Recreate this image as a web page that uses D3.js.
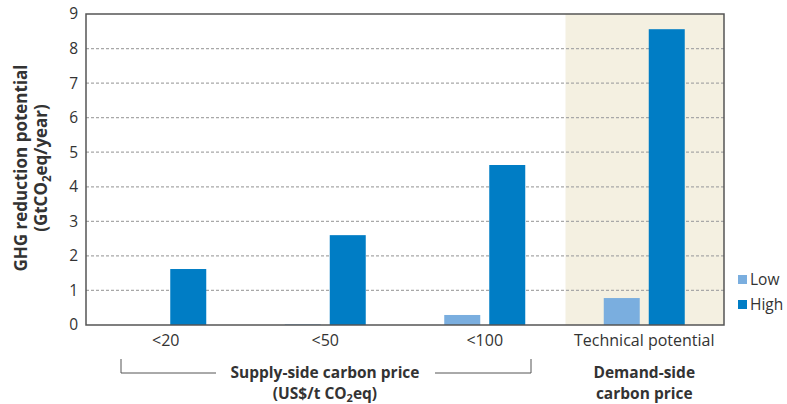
<!DOCTYPE html>
<html><head><meta charset="utf-8">
<script src="https://cdn.jsdelivr.net/npm/d3@7"></script>
<style>body{margin:0;background:#fff}svg{display:block}text{font-family:"Open Sans","Noto Sans",sans-serif;fill:#333}</style>
</head><body><svg id="c" width="787" height="404"></svg>
<script>
const categories = ["<20", "<50", "<100", "Technical potential"];
const series = ["Low", "High"];
const lowValues = [0, 0.02, 0.29, 0.78];
const highValues = [1.62, 2.6, 4.63, 8.56];
const yTicks = [0,1,2,3,4,5,6,7,8,9];
const colors = {Low: "#7aaedf", High: "#007dc5"};

const svg = d3.select("#c");
const m = {l: 86, r: 724, t: 14, b: 325};
const x = d3.scaleBand().domain(categories).range([m.l, m.r]);
const xs = d3.scaleBand().domain(series).range([-40.5, 40.5]).paddingInner(0.2);
const y = d3.scaleLinear().domain([0, 9]).range([m.b, m.t]);

svg.append("rect").attr("x", x("Technical potential")+1).attr("y", m.t)
  .attr("width", m.r - x("Technical potential")-1).attr("height", m.b - m.t).attr("fill", "#f4f0e1");

svg.append("g").selectAll("line").data(yTicks.filter(d => d > 0 && d < 9)).join("line")
  .attr("x1", m.l).attr("x2", m.r).attr("y1", d => y(d)).attr("y2", d => y(d))
  .attr("stroke", "#a8a8a8").attr("stroke-width", 1.2).attr("stroke-dasharray", "3,2");

const data = [];
categories.forEach((c, i) => {
  data.push({c, s: "Low", v: lowValues[i]});
  data.push({c, s: "High", v: highValues[i]});
});
svg.append("g").selectAll("rect").data(data.filter(d => d.v > 0)).join("rect")
  .attr("x", d => x(d.c) + x.bandwidth()/2 + xs(d.s))
  .attr("width", xs.bandwidth())
  .attr("y", d => y(d.v)).attr("height", d => y(0) - y(d.v))
  .attr("fill", d => colors[d.s]);

svg.append("rect").attr("x", m.l).attr("y", m.t).attr("width", m.r - m.l).attr("height", m.b - m.t)
  .attr("fill", "none").attr("stroke", "#555").attr("stroke-width", 1.5);

const yAxis = d3.axisLeft(y).tickValues(yTicks).tickSize(0).tickPadding(8).tickFormat(d3.format("d"));
const ga = svg.append("g").attr("transform", `translate(${m.l},0)`).call(yAxis);
ga.select(".domain").remove();
ga.selectAll("text").attr("font-size", 15.5).style("font-family", '"Open Sans",sans-serif').attr("fill", "#333");

const xAxis = d3.axisBottom(x).tickSize(0).tickPadding(0);
const gx = svg.append("g").attr("transform", `translate(0,${m.b})`).call(xAxis);
gx.select(".domain").remove();
gx.selectAll("text").attr("dy", null).attr("y", 21).attr("font-size", 16).style("font-family", '"Open Sans",sans-serif').attr("fill", "#333");

const yt = svg.append("text").attr("transform", "translate(27,168) rotate(-90)")
  .attr("text-anchor", "middle").attr("font-weight", "bold").attr("font-size", 17);
yt.append("tspan").attr("x", 0).attr("dy", 0).text("GHG reduction potential");
yt.append("tspan").attr("x", 0).attr("dy", 20).text("(GtCO");
yt.append("tspan").attr("font-size", 11.5).attr("dy", 4).text("2");
yt.append("tspan").attr("dy", -4).text("eq/year)");

const bx1 = 121, bx2 = 531, by = 373;
svg.append("path").attr("d", `M${bx1},359V${by}H216M435,${by}H${bx2}V359`)
  .attr("fill", "none").attr("stroke", "#555").attr("stroke-width", 1);
svg.append("text").attr("x", 325).attr("y", 378).attr("text-anchor", "middle")
  .attr("font-weight", "bold").attr("font-size", 15.5).text("Supply-side carbon price");
const st = svg.append("text").attr("x", 325).attr("y", 399).attr("text-anchor", "middle")
  .attr("font-weight", "bold").attr("font-size", 15.5);
st.append("tspan").text("(US$/t CO");
st.append("tspan").attr("font-size", 11).attr("dy", 3).text("2");
st.append("tspan").attr("dy", -3).text("eq)");

const cx4 = x("Technical potential") + x.bandwidth()/2;
svg.append("text").attr("x", cx4).attr("y", 378).attr("text-anchor", "middle")
  .attr("font-weight", "bold").attr("font-size", 15.5).text("Demand-side");
svg.append("text").attr("x", cx4).attr("y", 399).attr("text-anchor", "middle")
  .attr("font-weight", "bold").attr("font-size", 15.5).text("carbon price");

const lg = svg.append("g").selectAll("g").data(series).join("g")
  .attr("transform", (d, i) => `translate(738,${275 + i*25})`);
lg.append("rect").attr("width", 9).attr("height", 9).attr("fill", d => colors[d]);
lg.append("text").attr("x", 12).attr("y", 10).attr("font-size", 15.5).text(d => d);
</script></body></html>
